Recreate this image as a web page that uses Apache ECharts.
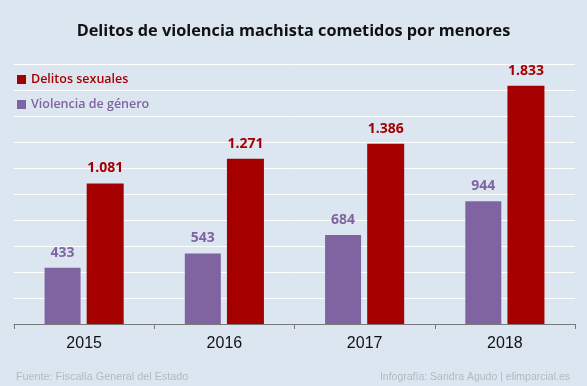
<!DOCTYPE html>
<html>
<head>
<meta charset="utf-8">
<script src="https://cdn.jsdelivr.net/npm/echarts@6/dist/echarts.min.js"></script>
<style>html,body{margin:0;padding:0;background:#dce6f1;}#c{width:587px;height:386px;}</style>
</head>
<body>
<div id="c"></div>
<script>
var categories = ['2015', '2016', '2017', '2018'];
var violenciaGenero = [433, 543, 684, 944];
var delitosSexuales = [1081, 1271, 1386, 1833];
var seriesNames = ['Violencia de género', 'Delitos sexuales'];
var titleText = 'Delitos de violencia machista cometidos por menores';
var sourceText = 'Fuente: Fiscalía General del Estado';
var creditText = 'Infografía: Sandra Agudo | elimparcial.es';

var PURPLE = '#8064a2', RED = '#a50000';
function fmt(v) { return String(v).replace(/\B(?=(\d{3})+(?!\d))/g, '.'); }

var chart = echarts.init(document.getElementById('c'));
chart.setOption({
  backgroundColor: '#dce6f1',
  animation: false,
  title: [
    { text: titleText, left: 'center', top: 18,
      textStyle: { fontFamily: 'Open Sans', fontWeight: 'bold', fontSize: 16.3, color: '#111' } },
    { text: sourceText, left: 11, top: 367,
      textStyle: { fontFamily: 'Liberation Sans', fontWeight: 'normal', fontSize: 10.8, color: '#b4b9bf' } },
    { text: creditText, right: 12, top: 367,
      textStyle: { fontFamily: 'Liberation Sans', fontWeight: 'normal', fontSize: 10.5, color: '#b4b9bf' } }
  ],
  legend: {
    orient: 'vertical', left: 12, top: 68, itemGap: 12,
    itemWidth: 9, itemHeight: 9, icon: 'rect',
    data: [
      { name: seriesNames[1], textStyle: { color: RED } },
      { name: seriesNames[0], textStyle: { color: PURPLE } }
    ],
    textStyle: { fontFamily: 'Open Sans', fontSize: 12.5, fontWeight: 600 }
  },
  grid: { left: 14, right: 12, top: 64, bottom: 62, containLabel: false },
  xAxis: {
    type: 'category', data: categories,
    axisLine: { lineStyle: { color: '#777', width: 1 } },
    axisTick: { show: true, length: 5, lineStyle: { color: '#777' } },
    axisLabel: { fontFamily: 'Liberation Sans', fontSize: 16, color: '#111', margin: 12 }
  },
  yAxis: {
    type: 'value', min: 0, max: 2000, interval: 200,
    axisLabel: { show: false }, axisLine: { show: false }, axisTick: { show: false },
    splitLine: { lineStyle: { color: '#ffffff', width: 1 } }
  },
  series: [
    { name: seriesNames[0], type: 'bar', data: violenciaGenero, barWidth: 36, barGap: '17%',
      itemStyle: { color: PURPLE },
      label: { show: true, position: 'top', distance: 8, formatter: function(p){return fmt(p.value);},
        fontFamily: 'Open Sans', fontWeight: 'bold', fontSize: 14, color: PURPLE } },
    { name: seriesNames[1], type: 'bar', data: delitosSexuales, barWidth: 37,
      itemStyle: { color: RED },
      label: { show: true, position: 'top', distance: 8, formatter: function(p){return fmt(p.value);},
        fontFamily: 'Open Sans', fontWeight: 'bold', fontSize: 14, color: RED } }
  ]
});
</script>
</body>
</html>
